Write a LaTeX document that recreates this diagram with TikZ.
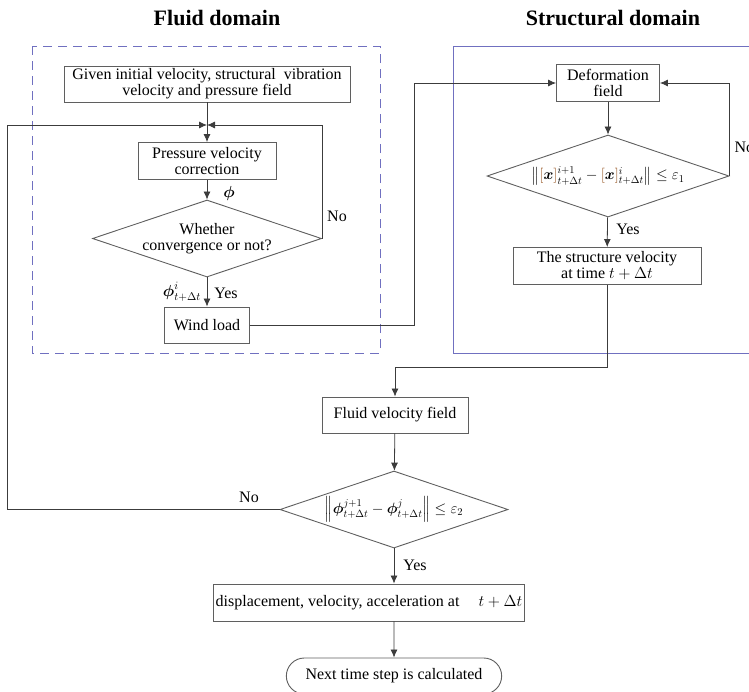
\RequirePackage{fix-cm}
\documentclass[tikz,border=0pt]{standalone}
\usepackage{fontspec}
\setmainfont{Liberation Serif}
\usepackage{amsmath}
\usepackage{tikz}
\usetikzlibrary{arrows.meta}
\usetikzlibrary{shapes.geometric}
\usetikzlibrary{shapes.misc}
\definecolor{domainblue}{RGB}{112, 112, 192}
\definecolor{boxgray}{RGB}{95, 95, 95}
\definecolor{linegray}{RGB}{60, 60, 60}
\definecolor{bracketbrown}{RGB}{150, 85, 35}
\newcommand{\bodysize}{\fontsize{16}{16}\selectfont}
\newcommand{\mathsize}{\fontsize{15}{15}\selectfont}
\newcommand{\titlesize}{\fontsize{22}{22}\selectfont}

\begin{document}
\begin{tikzpicture}[x=1pt, y=-1pt,
        >={Latex[length=8pt, width=7pt]},
        every node/.style={font=\bodysize, text=black},
        procbox/.style={draw=boxgray, line width=0.9pt, align=center, inner sep=2pt},
        decision/.style={diamond, aspect=2.96, draw=boxgray, line width=0.9pt, align=center, inner sep=-1pt},
        flow/.style={draw=linegray, line width=0.8pt},
        domaintitle/.style={font=\titlesize\bfseries}]
            \useasboundingbox (0,0) rectangle (749,691);
            % Titles
            \node[domaintitle] (fluidtitle)  at (217,18) {Fluid domain};
            \node[domaintitle] (structtitle) at (613,18) {Structural domain};
            % Domain frames
            \draw[domainblue, line width=0.9pt, dash pattern=on 9pt off 6pt] (32,46) rectangle (380,353);
            \draw[domainblue, line width=0.7pt] (760,46) -- (453,46) -- (453,353) -- (760,353);
            % Fluid domain
            \node[procbox, minimum width=286pt, minimum height=36pt] (given) at (207,84)
                 {Given initial velocity, structural\ \ vibration\\velocity and pressure field};
            \coordinate (junc) at (207,125);
            \node[procbox, minimum width=138pt, minimum height=37pt] (press) at (207,161) {Pressure velocity\\correction};
            \node[decision, minimum width=229pt, minimum height=77pt] (conv) at (207,238.5) {Whether\\convergence or not?};
            \node[procbox, minimum width=85pt, minimum height=36pt] (wind) at (207,325) {Wind load};
            \node (phi)  at (229,193) {$\boldsymbol{\phi}$};
            \node (no1)  at (337,216) {No};
            \node (phii) at (182,292) {$\boldsymbol{\phi}^{i}_{t+\Delta t}$};
            \node (yes1) at (226,293) {Yes};
            % Structural domain
            \node[procbox, minimum width=103pt, minimum height=37pt] (deform) at (608,83) {Deformation\\field};
            \node[decision, aspect=2.95, minimum width=242pt, minimum height=82pt, font=\mathsize] (check1) at (608,176)
                 {$\left\|{\color{bracketbrown}[}\boldsymbol{x}{\color{bracketbrown}]}^{i+1}_{t+\Delta t}-{\color{bracketbrown}[}\boldsymbol{x}{\color{bracketbrown}]}^{i}_{t+\Delta t}\right\|\le\varepsilon_1$};
            \node[procbox, minimum width=188pt, minimum height=37pt] (svel) at (607,266) {The structure velocity\\at time\ $t+\Delta t$};
            \node[anchor=west] (no2) at (731,147) {No};
            \node (yes2) at (628,229) {Yes};
            % Coupling
            \node[procbox, minimum width=146pt, minimum height=36pt] (fvel) at (395,415) {Fluid velocity field};
            \node[decision, minimum width=228pt, minimum height=77pt, font=\mathsize] (check2) at (394,509.5)
                 {$\left\|\boldsymbol{\phi}^{j+1}_{t+\Delta t}-\boldsymbol{\phi}^{j}_{t+\Delta t}\right\|\le\varepsilon_2$};
            \node[procbox, minimum width=284pt, minimum height=37pt] (disp) at (369,602.5)
                 {displacement, velocity, acceleration at\hspace{1.2em}$t+\Delta t$};
            \node[rounded rectangle, draw=boxgray, line width=0.9pt, minimum width=222pt, minimum height=36pt] (next) at (394,676)
                 {Next time step is calculated};
            \node (no3)  at (249,497) {No};
            \node (yes3) at (415,565) {Yes};
            % Connectors
            \draw[flow, ->] (given) -- (press);
            \draw[flow, ->] (press) -- (conv);
            \draw[flow, ->] (conv.east) |- (junc);
            \draw[flow, ->] (conv) -- (wind);
            \coordinate (windbend) at (414,325);
            \draw[flow, ->] (wind) -- (windbend) |- (deform);
            \draw[flow, ->] (deform) -- (check1);
            \draw[flow, ->] (check1.east) |- (deform.east);
            \draw[flow, ->] (check1) -- (svel);
            \coordinate (svelbend) at (395,367);
            \draw[flow, ->] (svel) |- (svelbend) -- (fvel);
            \draw[flow, ->] (fvel) -- (check2);
            \draw[flow, ->] (check2) -- (check2.south |- disp.north);
            \draw[flow, ->] (next.north |- disp.south) -- (next);
            \coordinate (leftbend) at (7,509.5);
            \draw[flow, ->] (check2.west) -- (leftbend) |- (junc);
        \end{tikzpicture}
\end{document}
